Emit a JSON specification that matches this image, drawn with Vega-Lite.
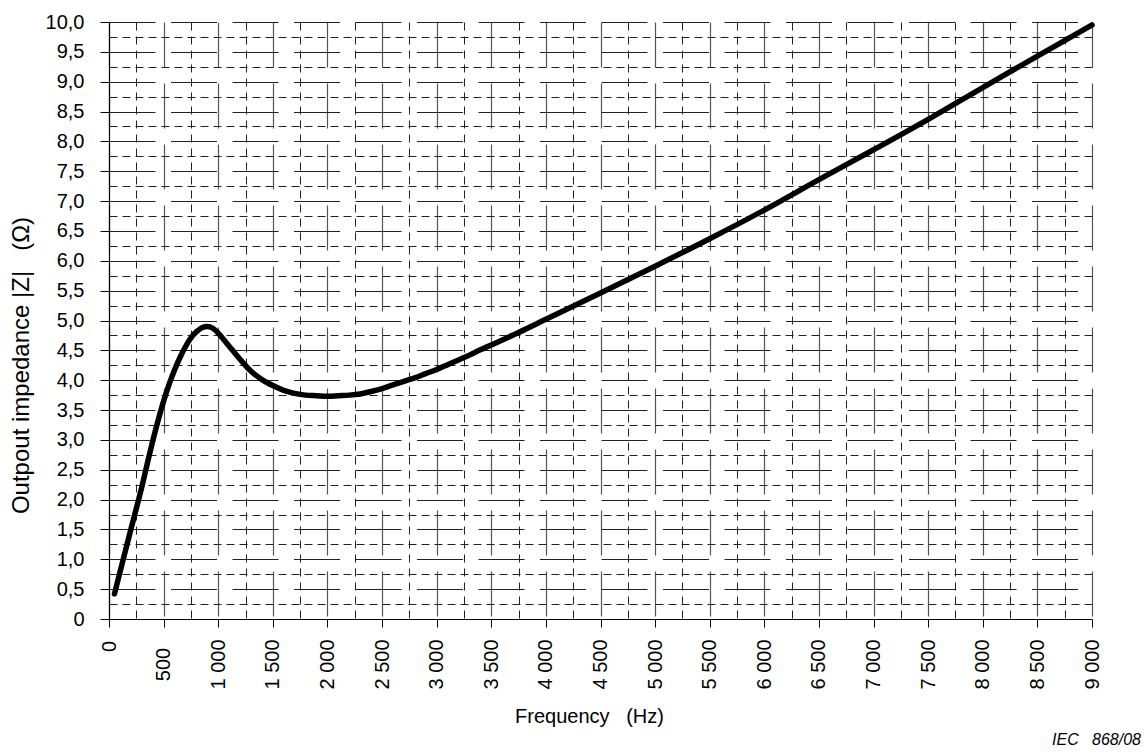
{
  "$schema": "https://vega.github.io/schema/vega-lite/v6.json",
  "autosize": {"type": "none"},
  "padding": {"left": 109, "top": 22, "right": 54, "bottom": 135},
  "width": 983,
  "height": 597,
  "background": "white",
  "config": {
    "view": {"stroke": null},
    "font": "Liberation Sans",
    "axis": {
      "labelFont": "Liberation Sans",
      "labelFontSize": 20,
      "labelColor": "#000",
      "titleFont": "Liberation Sans",
      "titleFontSize": 20,
      "titleFontWeight": "normal",
      "titleColor": "#000"
    }
  },
  "title": {
    "text": "IEC\u00a0\u00a0\u00a0868/08",
    "orient": "bottom",
    "anchor": "end",
    "frame": "group",
    "dx": 49,
    "offset": 6,
    "font": "Liberation Sans",
    "fontSize": 16,
    "fontStyle": "italic",
    "fontWeight": "normal",
    "color": "#000"
  },
  "data": {
    "values": [
      {"f": 50, "z": 0.42},
      {"f": 100, "z": 0.78},
      {"f": 150, "z": 1.14},
      {"f": 200, "z": 1.5},
      {"f": 250, "z": 1.85},
      {"f": 300, "z": 2.21},
      {"f": 350, "z": 2.6},
      {"f": 400, "z": 2.98},
      {"f": 450, "z": 3.33},
      {"f": 500, "z": 3.65},
      {"f": 550, "z": 3.93},
      {"f": 600, "z": 4.17},
      {"f": 650, "z": 4.38},
      {"f": 700, "z": 4.56},
      {"f": 750, "z": 4.71},
      {"f": 800, "z": 4.81},
      {"f": 850, "z": 4.88},
      {"f": 900, "z": 4.9},
      {"f": 950, "z": 4.87},
      {"f": 1000, "z": 4.79},
      {"f": 1050, "z": 4.68},
      {"f": 1100, "z": 4.57},
      {"f": 1150, "z": 4.46},
      {"f": 1200, "z": 4.35},
      {"f": 1300, "z": 4.15},
      {"f": 1400, "z": 4.01},
      {"f": 1500, "z": 3.91},
      {"f": 1600, "z": 3.83},
      {"f": 1700, "z": 3.78},
      {"f": 1800, "z": 3.75},
      {"f": 1900, "z": 3.74},
      {"f": 2000, "z": 3.73},
      {"f": 2100, "z": 3.74},
      {"f": 2200, "z": 3.75},
      {"f": 2300, "z": 3.77},
      {"f": 2400, "z": 3.81},
      {"f": 2500, "z": 3.86},
      {"f": 2600, "z": 3.92},
      {"f": 2700, "z": 3.98},
      {"f": 2800, "z": 4.04},
      {"f": 2900, "z": 4.11},
      {"f": 3000, "z": 4.18},
      {"f": 3100, "z": 4.26},
      {"f": 3200, "z": 4.34},
      {"f": 3300, "z": 4.42},
      {"f": 3400, "z": 4.51},
      {"f": 3500, "z": 4.59},
      {"f": 3750, "z": 4.8},
      {"f": 4000, "z": 5.02},
      {"f": 4500, "z": 5.46},
      {"f": 5000, "z": 5.91},
      {"f": 5500, "z": 6.37},
      {"f": 6000, "z": 6.85},
      {"f": 6500, "z": 7.36},
      {"f": 7000, "z": 7.86},
      {"f": 7500, "z": 8.37},
      {"f": 8000, "z": 8.9},
      {"f": 8500, "z": 9.43},
      {"f": 9000, "z": 9.95}
    ]
  },
  "resolve": {"axis": {"x": "independent", "y": "independent"}},
  "layer": [
    {
      "description": "Quarter-step dashed grid (250 Hz / 0.25 ohm)",
      "mark": {"type": "line", "opacity": 0},
      "encoding": {
        "x": {
          "field": "f",
          "type": "quantitative",
          "scale": {"domain": [0, 9000], "nice": false, "zero": false},
          "axis": {
            "orient": "bottom",
            "values": [250, 750, 1250, 1750, 2250, 2750, 3250, 3750, 4250, 4750, 5250, 5750, 6250, 6750, 7250, 7750, 8250, 8750],
            "grid": true,
            "gridDash": [8, 6],
            "gridColor": "#222",
            "gridWidth": 1,
            "ticks": false,
            "labels": false,
            "domain": false,
            "title": null
          }
        },
        "y": {
          "field": "z",
          "type": "quantitative",
          "scale": {"domain": [0, 10], "nice": false, "zero": false},
          "axis": {
            "orient": "left",
            "values": [0.25, 0.75, 1.25, 1.75, 2.25, 2.75, 3.25, 3.75, 4.25, 4.75, 5.25, 5.75, 6.25, 6.75, 7.25, 7.75, 8.25, 8.75, 9.25, 9.75],
            "grid": true,
            "gridDash": [8, 5],
            "gridColor": "#222",
            "gridWidth": 1,
            "ticks": false,
            "labels": false,
            "domain": false,
            "title": null
          }
        }
      }
    },
    {
      "description": "Impedance curve with the main axes",
      "mark": {"type": "line", "color": "#000", "strokeWidth": 5.5, "interpolate": "monotone", "strokeCap": "round"},
      "encoding": {
        "x": {
          "field": "f",
          "type": "quantitative",
          "scale": {"domain": [0, 9000], "nice": false, "zero": false},
          "axis": {
            "orient": "bottom",
            "values": [0, 500, 1000, 1500, 2000, 2500, 3000, 3500, 4000, 4500, 5000, 5500, 6000, 6500, 7000, 7500, 8000, 8500, 9000],
            "grid": true,
            "gridDash": [45, 16],
            "gridColor": "#555",
            "gridWidth": 1.2,
            "tickSize": 8,
            "tickColor": "#000",
            "domain": true,
            "domainColor": "#000",
            "domainWidth": 1.2,
            "labelAngle": 270,
            "labelAlign": "center",
            "labelBaseline": "middle",
            "labelPadding": {"condition": {"test": "datum.value == 0", "value": 19}, "value": 37},
            "labelExpr": "replace(format(datum.value, ','), ',', ' ')",
            "labelOverlap": false,
            "title": "Frequency\u00a0\u00a0\u00a0(Hz)",
            "titleX": 480,
            "titleY": 103,
            "titleAlign": "center",
            "titleBaseline": "alphabetic",
            "titleAnchor": null
          }
        },
        "y": {
          "field": "z",
          "type": "quantitative",
          "scale": {"domain": [0, 10], "nice": false, "zero": false},
          "axis": {
            "orient": "left",
            "values": [0, 0.5, 1, 1.5, 2, 2.5, 3, 3.5, 4, 4.5, 5, 5.5, 6, 6.5, 7, 7.5, 8, 8.5, 9, 9.5, 10],
            "grid": true,
            "gridDash": [46, 15.5],
            "gridColor": "#222",
            "gridWidth": 1,
            "tickSize": 9,
            "tickColor": "#000",
            "domain": true,
            "domainColor": "#000",
            "domainWidth": 1.2,
            "labelPadding": 16,
            "labelAlign": "right",
            "labelBaseline": "middle",
            "labelExpr": "datum.value == 0 ? '0' : replace(format(datum.value, '.1f'), '.', ',')",
            "labelOverlap": false,
            "title": "Outpout impedance |Z|\u00a0\u00a0\u00a0(\u03a9)",
            "titleFontSize": 24,
            "titleX": -81,
            "titleY": 343,
            "titleAngle": 270,
            "titleAlign": "center",
            "titleBaseline": "alphabetic",
            "titleAnchor": null
          }
        }
      }
    }
  ]
}
